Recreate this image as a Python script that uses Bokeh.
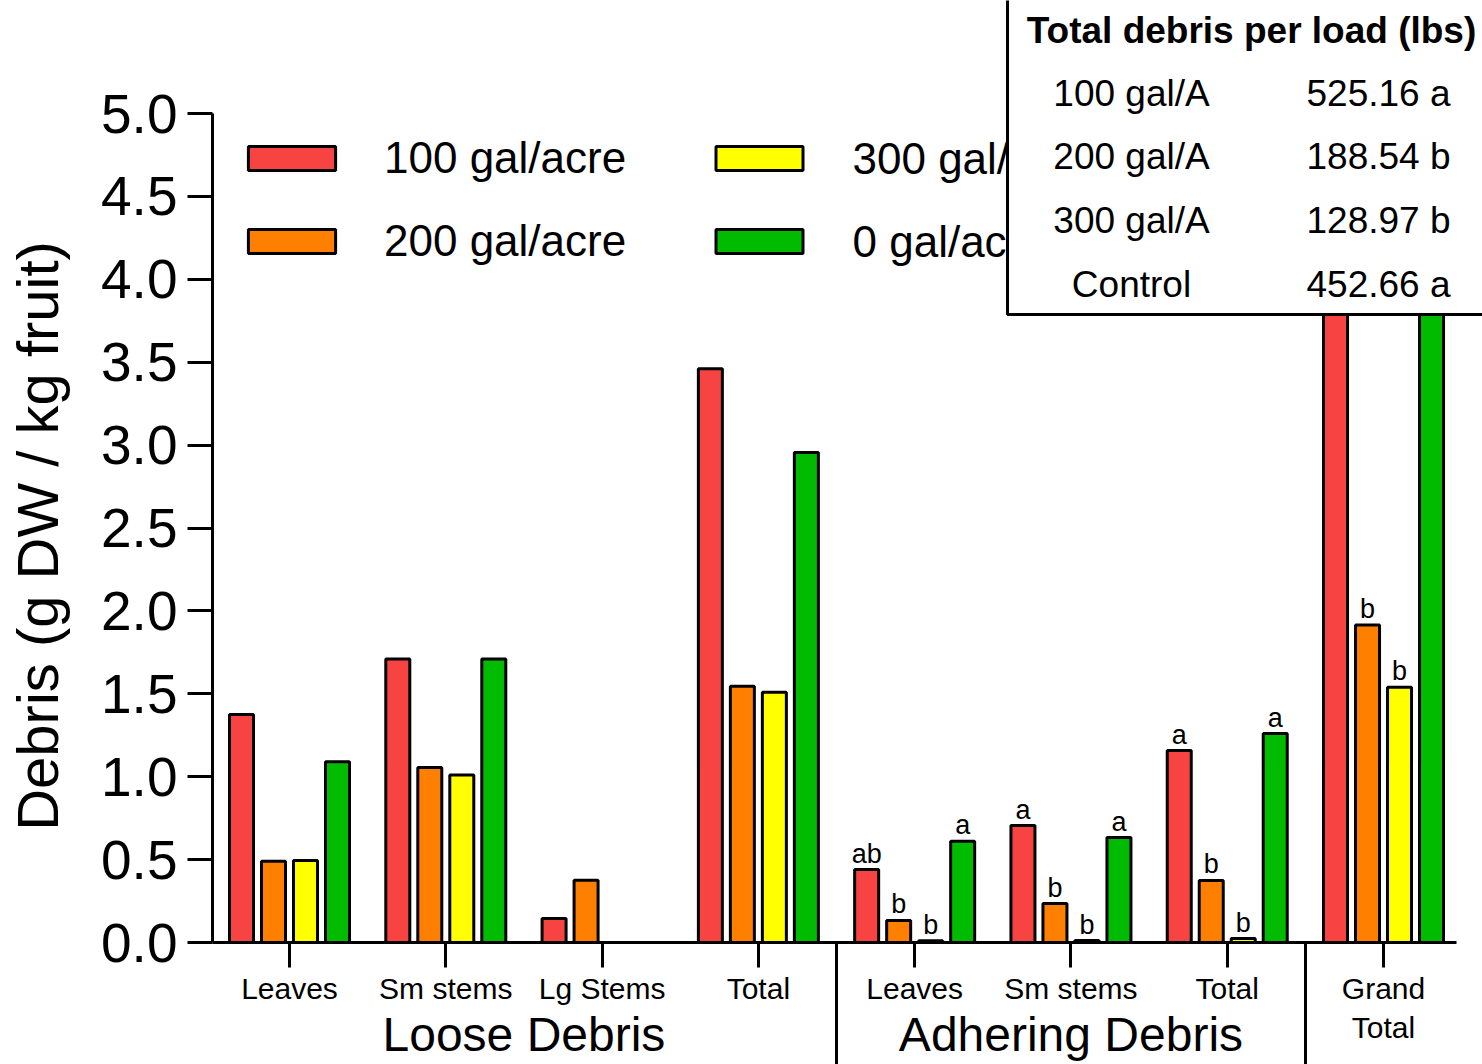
import numpy as np
from bokeh.plotting import figure
from bokeh.models import (Range1d, FixedTicker, SingleIntervalTicker, PrintfTickFormatter,
                          Legend, LegendItem, ColumnDataSource, Label, LinearAxis,
                          BoxAnnotation)
from bokeh.core.properties import value
from bokeh.embed import file_html
from bokeh.resources import INLINE

# ---------------- data ----------------
groups = ["Leaves", "Sm stems", "Lg Stems", "Total",
          "Leaves", "Sm stems", "Total", "Grand\nTotal"]
sections = ["Loose Debris", "Adhering Debris"]
section_members = [[1, 2, 3, 4], [5, 6, 7]]
series_names = ["100 gal/acre", "200 gal/acre", "300 gal/acre", "0 gal/acre"]
colors = ["#F84343", "#FF8000", "#FFFF00", "#00BB00"]

rate100 = [1.375, 1.71, 0.145, 3.46, 0.44, 0.705, 1.158, 4.62]
rate200 = [0.49, 1.055, 0.375, 1.545, 0.133, 0.235, 0.374, 1.915]
rate300 = [0.495, 1.01, 0.0, 1.51, 0.01, 0.012, 0.024, 1.54]
rate0 = [1.09, 1.71, 0.0, 2.955, 0.61, 0.633, 1.26, 4.22]

letters100 = ["", "", "", "", "ab", "a", "a", ""]
letters200 = ["", "", "", "", "b", "b", "b", "b"]
letters300 = ["", "", "", "", "b", "b", "b", "b"]
letters0 = ["", "", "", "", "a", "a", "a", ""]

table_title = "Total debris per load (lbs)"
table_rates = ["100 gal/A", "200 gal/A", "300 gal/A", "Control"]
table_values = ["525.16 a", "188.54 b", "128.97 b", "452.66 a"]

y_label = "Debris (g DW / kg fruit)"
y_ticks_step = 0.5
y_max = 5.0

# ---------------- layout ----------------
FONT = "Liberation Sans"
W, H = 1482, 1064
FL = 212              # frame left (px)
FB = 942              # frame bottom (px from top)
PXY = 165.8           # px per y unit
PXX = 156.29          # px per group
G1 = 289              # px of first group centre
LETTER_GAP = 16       # px between bar top and letter centre

def dx(px):
    return 1 + (px - G1) / PXX

def dy(py):
    return (FB - py) / PXY

x_start, x_end = dx(FL), dx(W)
y_start, y_end = 0.0, dy(0)

p = figure(width=W, height=H, output_backend="svg", toolbar_location=None,
           x_range=Range1d(x_start, x_end), y_range=Range1d(y_start, y_end),
           min_border_left=FL, min_border_right=0, min_border_top=0,
           min_border_bottom=H - FB)
p.outline_line_color = None
p.grid.visible = False
p.background_fill_color = "white"

xg = np.arange(1, len(groups) + 1)
n = 4
step = 32 / PXX
bar_w = 24 / PXX
offsets = (np.arange(n) - (n - 1) / 2) * step
series = [rate100, rate200, rate300, rate0]
letters = [letters100, letters200, letters300, letters0]

renderers = []
for i in range(n):
    top = np.array(series[i], dtype=float)
    src = ColumnDataSource(dict(x=xg + offsets[i], top=top,
                                ly=top + LETTER_GAP / PXY, lab=letters[i]))
    r = p.vbar(x="x", top="top", width=bar_w, bottom=0, source=src,
               fill_color=colors[i], line_color="black", line_width=3)
    renderers.append(r)
    p.text(x="x", y="ly", text="lab", source=src, text_align="center",
           text_baseline="middle",
           text_font=value(FONT), text_font_size="27px", text_color="black")

# ---------------- y axis ----------------
ya = p.yaxis[0]
ya.ticker = SingleIntervalTicker(interval=y_ticks_step, num_minor_ticks=0)
ya.formatter = PrintfTickFormatter(format="%.1f")
ya.bounds = (0, y_max)
ya.axis_line_width = 3
ya.major_tick_line_width = 3
ya.major_tick_out = 25
ya.major_tick_in = 0
ya.minor_tick_line_color = None
ya.major_label_standoff = 10
ya.major_label_text_font = FONT
ya.major_label_text_font_size = "55px"
ya.major_label_text_color = "black"
# the label is centred on the whole frame; trailing no-break spaces centre it on 0..5
ya.axis_label = y_label + "\u00a0" * 8
ya.axis_label_text_font = FONT
ya.axis_label_text_font_size = "58px"
ya.axis_label_text_font_style = "normal"
ya.axis_label_text_color = "black"
ya.axis_label_standoff = 28

# ---------------- x axes ----------------
sep = [(max(a) + min(b)) / 2 for a, b in zip(section_members[:-1], section_members[1:])]
sep.append((max(section_members[-1]) + len(groups)) / 2)

xa = p.xaxis[0]
xa.ticker = FixedTicker(ticks=[float(v) for v in xg], minor_ticks=sep)
xa.major_label_overrides = {int(i): g for i, g in zip(xg, groups)}
xa.bounds = (x_start, dx(1456))
xa.axis_line_width = 3
xa.major_tick_line_width = 3
xa.major_tick_out = 25
xa.major_tick_in = 0
xa.minor_tick_line_width = 3
xa.minor_tick_line_color = "black"
xa.minor_tick_out = 125
xa.minor_tick_in = 0
xa.major_label_standoff = -96
xa.major_label_text_font = FONT
xa.major_label_text_font_size = "30px"
xa.major_label_text_color = "black"

sec_centers = [float(np.mean(m)) for m in section_members]
xs = LinearAxis(ticker=FixedTicker(ticks=sec_centers, minor_ticks=[]),
                major_label_overrides={c: s for c, s in zip(sec_centers, sections)})
xs.axis_line_color = None
xs.major_tick_line_color = None
xs.minor_tick_line_color = None
xs.major_tick_out = 0
xs.major_tick_in = 0
xs.minor_tick_out = 0
xs.minor_tick_in = 0
xs.major_label_standoff = -40
xs.major_label_text_font = FONT
xs.major_label_text_font_size = "48px"
xs.major_label_text_color = "black"
p.add_layout(xs, "below")

# ---------------- legend ----------------
# first column: a real Legend (fully visible in the reference)
legend = Legend(items=[LegendItem(label=series_names[i], renderers=[renderers[i]]) for i in (0, 1)],
                location=(25, 676), orientation="vertical",
                glyph_width=109, glyph_height=30, label_standoff=38, spacing=33,
                label_height=50, padding=0, margin=0, border_line_color=None,
                background_fill_alpha=0, label_text_font=FONT,
                label_text_font_size="44px", label_text_color="black")
p.add_layout(legend)

# second column is partly hidden by the inset table, so it is drawn at glyph level
item_mid = [158, 241]
idx2 = [2, 3]
lsrc = ColumnDataSource(dict(x=[dx(759)] * len(idx2), tx=[dx(852)] * len(idx2),
                             y=[dy(v) for v in item_mid],
                             color=[colors[i] for i in idx2],
                             name=[series_names[i] for i in idx2]))
p.rect(x="x", y="y", width=87, height=24, width_units="screen", height_units="screen",
       source=lsrc, fill_color="color", line_color="black", line_width=3)
p.text(x="tx", y="y", text="name", source=lsrc, text_align="left", text_baseline="middle",
       text_font=value(FONT), text_font_size="44px", text_color="black")

# ---------------- inset table ----------------
box = BoxAnnotation(left=dx(1007), right=x_end + 1, bottom=dy(314), top=y_end + 1,
                    fill_color="white", fill_alpha=1.0, line_color="black",
                    line_width=3, line_alpha=1.0, level="overlay")
p.add_layout(box)

p.add_layout(Label(x=dx(1251), y=dy(30), text=table_title, text_align="center",
                   text_baseline="middle", text_font=FONT, text_font_size="37px",
                   text_font_style="bold", text_color="black", level="overlay"))
row_mid = [93, 156, 220, 284]
for rate, val, ym in zip(table_rates, table_values, row_mid):
    p.add_layout(Label(x=dx(1131), y=dy(ym), text=rate, text_align="center",
                       text_baseline="middle", text_font=FONT, text_font_size="37px",
                       text_color="black", level="overlay"))
    p.add_layout(Label(x=dx(1378), y=dy(ym), text=val, text_align="center",
                       text_baseline="middle", text_font=FONT, text_font_size="37px",
                       text_color="black", level="overlay"))

open("out.html", "w").write(file_html(p, INLINE))
